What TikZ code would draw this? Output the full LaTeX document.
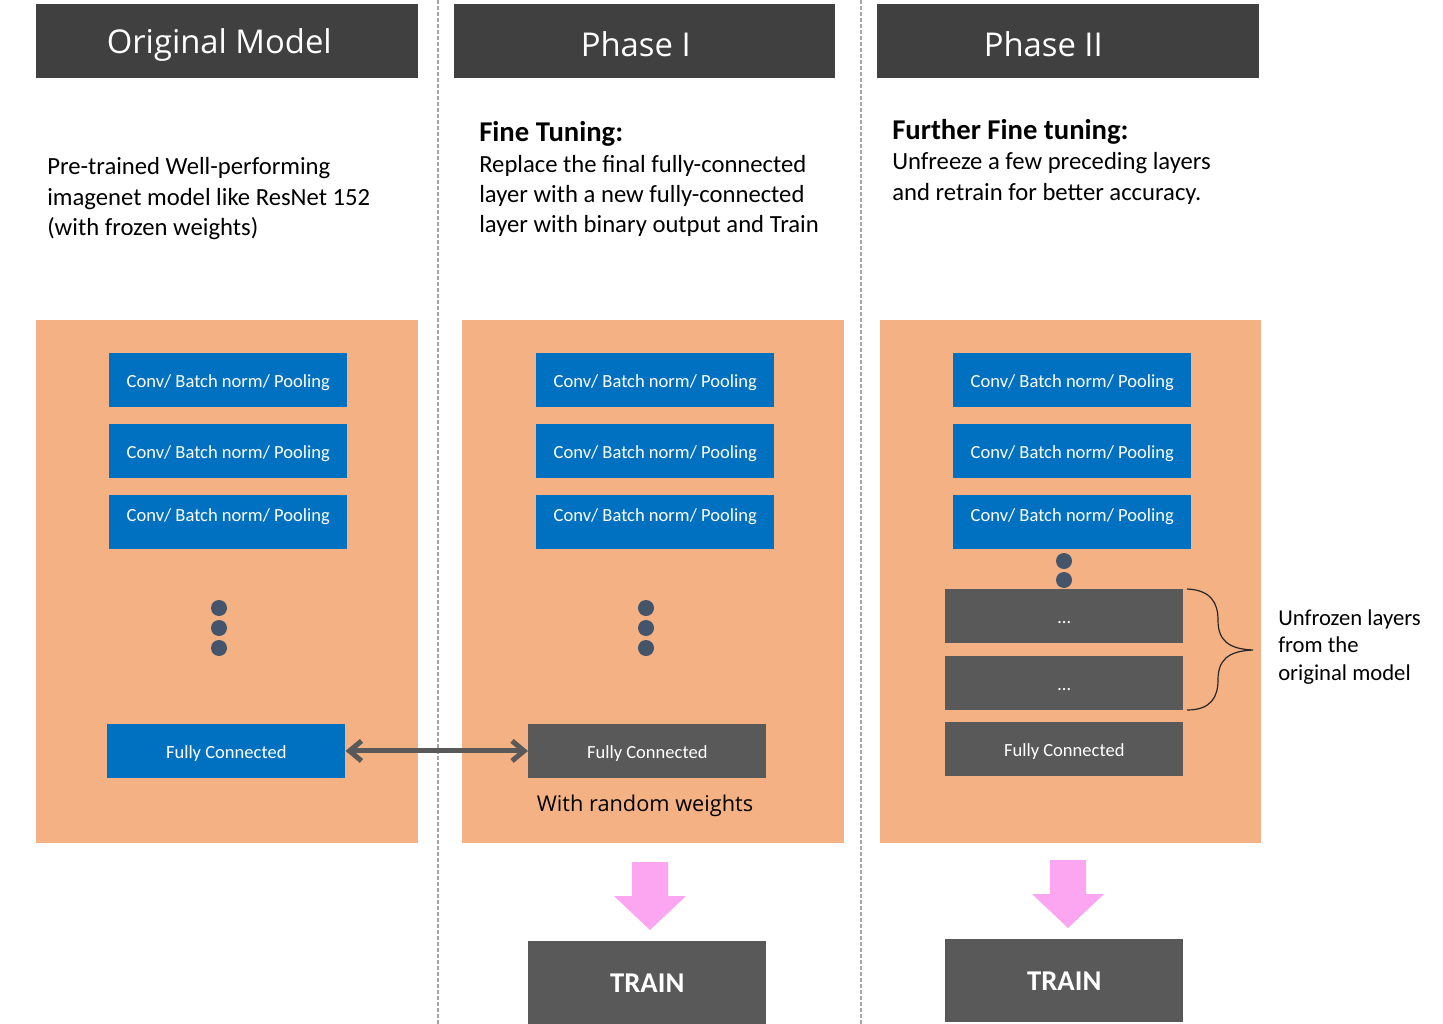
\documentclass[tikz,border=0pt]{standalone}
\usepackage{fontspec}
\setmainfont{Carlito}
\newfontfamily\headfont{Open Sans}
\usetikzlibrary{arrows.meta}
\definecolor{hdrC}{HTML}{404040}
\definecolor{greyC}{HTML}{595959}
\definecolor{blueC}{HTML}{0070C0}
\definecolor{panelC}{HTML}{F4B183}
\definecolor{dotC}{HTML}{44546A}
\definecolor{pinkC}{HTML}{FCA5F0}
\definecolor{sepC}{HTML}{A6A6A6}
\tikzset{
  header/.style={rectangle, inner sep=0pt, anchor=north west, fill=hdrC,
    minimum width=286.5pt, minimum height=55.5pt},
  headtext/.style={inner sep=0pt, text=white, font=\headfont\fontsize{24.6}{28}\selectfont},
  panel/.style={rectangle, inner sep=0pt, anchor=north west, fill=panelC,
    minimum width=286.5pt, minimum height=392.25pt},
  layerbox/.style={rectangle, inner sep=0pt, anchor=north west, text=white,
    minimum width=178.5pt, minimum height=40pt, text height=14.5pt, text depth=3pt,
    font=\fontsize{13.9}{16}\selectfont},
  bluebox/.style={layerbox, fill=blueC},
  greybox/.style={layerbox, fill=greyC},
  trainbox/.style={rectangle, inner sep=0pt, anchor=north west, fill=greyC, text=white,
    minimum width=178.5pt, minimum height=62.25pt, font=\bfseries\fontsize{21.5}{24}\selectfont},
  desc/.style={anchor=base west, inner sep=0pt, font=\fontsize{18.5}{22}\selectfont},
  deschead/.style={anchor=base west, inner sep=0pt, font=\bfseries\fontsize{21.5}{25}\selectfont},
  sidelabel/.style={anchor=base west, inner sep=0pt, font=\fontsize{17}{20}\selectfont},
  sepline/.style={draw=sepC, line width=0.8pt, dash pattern=on 3pt off 1.5pt},
  dbl/.style={draw=greyC, line width=3.8pt, {Straight Barb[length=9pt,width=15pt]}-{Straight Barb[length=9pt,width=15pt]}},
  dotstyle/.style={fill=dotC},
  bigarrow/.style={fill=pinkC},
  bracestyle/.style={draw=black!85, line width=0.9pt}
}
\begin{document}
\begin{tikzpicture}[x=0.75pt,y=-0.75pt]
\useasboundingbox[fill=white] (0,0) rectangle (1443,1024);

% separators
\draw[sepline] (438,0) -- (438,1024);
\draw[sepline] (861,0) -- (861,1024);

% headers
\node[header] (h1) at (36,4) {};
\node[header, minimum width=285.75pt] (h2) at (454,4) {};
\node[header] (h3) at (877,4) {};
\node[headtext, xshift=-6pt, yshift=-3pt] (h1t) at (h1.center) {Original Model};
\node[headtext, xshift=-6.75pt, yshift=-2.25pt] (h2t) at (h2.center) {Phase I};
\node[headtext, xshift=-18.75pt, yshift=-2.25pt] (h3t) at (h3.center) {Phase II};

% descriptions
\node[desc] (d1a) at (47,175) {Pre-trained Well-performing};
\node[desc] (d1b) at (47,205) {imagenet model like ResNet 152};
\node[desc] (d1c) at (47,235) {(with frozen weights)};

\node[deschead] (d2h) at (479,142) {Fine Tuning:};
\node[desc] (d2a) at (479,172) {Replace the final fully-connected};
\node[desc] (d2b) at (479,202) {layer with a new fully-connected};
\node[desc] (d2c) at (479,232) {layer with binary output and Train};

\node[deschead] (d3h) at (892,140) {Further Fine tuning:};
\node[desc] (d3a) at (892,170) {Unfreeze a few preceding layers};
\node[desc] (d3b) at (892,200) {and retrain for better accuracy.};

% panels
\node[panel] (p1) at (36,320) {};
\node[panel] (p2) at (462,320) {};
\node[panel, minimum width=285.75pt] (p3) at (880,320) {};

% panel 1
\node[bluebox] (c1a) at (109,353) {Conv/ Batch norm/ Pooling};
\node[bluebox] (c1b) at (109,424) {Conv/ Batch norm/ Pooling};
\node[bluebox, text depth=15pt] (c1c) at (109,495) {Conv/ Batch norm/ Pooling};
\fill[dotstyle] (219,608) circle (8);
\fill[dotstyle] (219,628) circle (8);
\fill[dotstyle] (219,648) circle (8);
\node[bluebox] (fc1) at (107,724) {Fully Connected};

% panel 2
\node[bluebox] (c2a) at (536,353) {Conv/ Batch norm/ Pooling};
\node[bluebox] (c2b) at (536,424) {Conv/ Batch norm/ Pooling};
\node[bluebox, text depth=15pt] (c2c) at (536,495) {Conv/ Batch norm/ Pooling};
\fill[dotstyle] (646,608) circle (8);
\fill[dotstyle] (646,628) circle (8);
\fill[dotstyle] (646,648) circle (8);
\node[greybox] (fc2) at (528,724) {Fully Connected};
\node[anchor=base, inner sep=0pt, font=\headfont\fontsize{16.3}{19}\selectfont] (rw) at (645,811) {With random weights};

% panel 3
\node[bluebox] (c3a) at (953,353) {Conv/ Batch norm/ Pooling};
\node[bluebox] (c3b) at (953,424) {Conv/ Batch norm/ Pooling};
\node[bluebox, text depth=15pt] (c3c) at (953,495) {Conv/ Batch norm/ Pooling};
\fill[dotstyle] (1064,561) circle (8);
\fill[dotstyle] (1064,580) circle (8);
\node[greybox] (u1) at (945,589) {…};
\node[greybox] (u2) at (945,656) {…};
\node[greybox] (fc3) at (945,722) {Fully Connected};

% brace
\draw[bracestyle] (1187,589) .. controls (1211,590) and (1218,603) .. (1218,620)
  .. controls (1218,640) and (1228,649) .. (1253,650)
  .. controls (1228,651) and (1218,660) .. (1218,680)
  .. controls (1218,697) and (1211,710) .. (1187,710);
\node[sidelabel] (ul1) at (1278,625) {Unfrozen layers};
\node[sidelabel] (ul2) at (1278,652) {from the};
\node[sidelabel] (ul3) at (1278,680) {original model};

% double arrow
\draw[dbl] (fc1.east) -- (fc2.west);

% pink arrows
\fill[bigarrow] (632,862) -- (668,862) -- (668,896) -- (686,896) -- (650,930) -- (614,896) -- (632,896) -- cycle;
\fill[bigarrow] (1050,860) -- (1086,860) -- (1086,894) -- (1104,894) -- (1068,928) -- (1032,894) -- (1050,894) -- cycle;

% train boxes
\node[trainbox] (t2) at (528,941) {TRAIN};
\node[trainbox] (t3) at (945,939) {TRAIN};
\end{tikzpicture}
\end{document}
